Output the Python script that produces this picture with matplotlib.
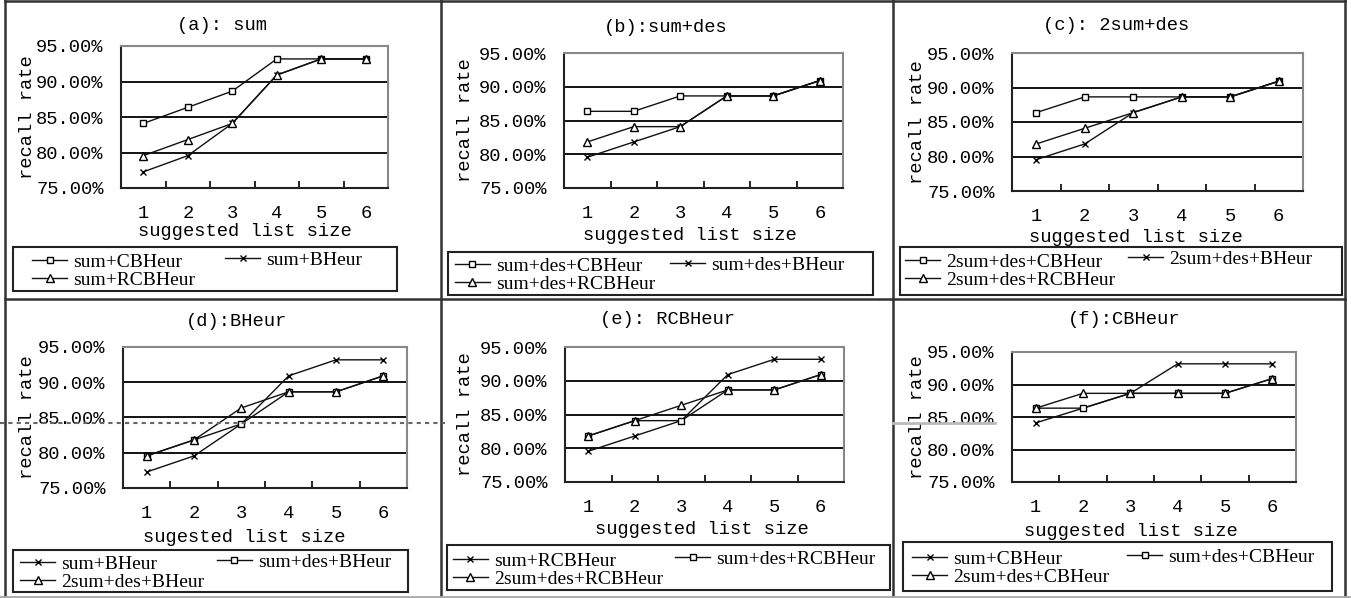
import numpy as np
import matplotlib
matplotlib.use("Agg")
import matplotlib.pyplot as plt
from matplotlib.lines import Line2D
from matplotlib.patches import Rectangle

# suggested list size and recall rate (%)
sizes = [1, 2, 3, 4, 5, 6]
sum_cb = [84.09, 86.36, 88.64, 93.18, 93.18, 93.18]
sum_b = [77.27, 79.55, 84.09, 90.91, 93.18, 93.18]
sum_rcb = [79.55, 81.82, 84.09, 90.91, 93.18, 93.18]
sumdes_cb = [86.36, 86.36, 88.64, 88.64, 88.64, 90.91]
sumdes_b = [79.55, 81.82, 84.09, 88.64, 88.64, 90.91]
sumdes_rcb = [81.82, 84.09, 84.09, 88.64, 88.64, 90.91]
sum2des_cb = [86.36, 88.64, 88.64, 88.64, 88.64, 90.91]
sum2des_b = [79.55, 81.82, 86.36, 88.64, 88.64, 90.91]
sum2des_rcb = [81.82, 84.09, 86.36, 88.64, 88.64, 90.91]

titles = ["(a): sum", "(b):sum+des", "(c): 2sum+des",
          "(d):BHeur", "(e): RCBHeur", "(f):CBHeur"]
xlabels = ["suggested list size", "suggested list size", "suggested list size",
           "sugested list size", "suggested list size", "suggested list size"]

W, H = 1351, 598
MONO = "Liberation Mono"
SERIF = "Liberation Serif"


def fx(x):
    return x / W


def fy(y):
    return 1 - y / H


mk = {"s": dict(marker="s", ms=5, mfc="white", mec="black", mew=1.0),
      "x": dict(marker="x", ms=5, mec="black", mew=1.0),
      "^": dict(marker="^", ms=6, mfc="white", mec="black", mew=1.0)}

# (series, marker, label) per panel, in legend order
series = [
    [(sum_cb, "s", "sum+CBHeur"), (sum_b, "x", "sum+BHeur"), (sum_rcb, "^", "sum+RCBHeur")],
    [(sumdes_cb, "s", "sum+des+CBHeur"), (sumdes_b, "x", "sum+des+BHeur"), (sumdes_rcb, "^", "sum+des+RCBHeur")],
    [(sum2des_cb, "s", "2sum+des+CBHeur"), (sum2des_b, "x", "2sum+des+BHeur"), (sum2des_rcb, "^", "2sum+des+RCBHeur")],
    [(sum_b, "x", "sum+BHeur"), (sumdes_b, "s", "sum+des+BHeur"), (sum2des_b, "^", "2sum+des+BHeur")],
    [(sum_rcb, "x", "sum+RCBHeur"), (sumdes_rcb, "s", "sum+des+RCBHeur"), (sum2des_rcb, "^", "2sum+des+RCBHeur")],
    [(sum_cb, "x", "sum+CBHeur"), (sumdes_cb, "s", "sum+des+CBHeur"), (sum2des_cb, "^", "2sum+des+CBHeur")],
]

# pixel layout: axes box, title, ylabel x, xlabel, legend box, legend columns/rows
layout = [
    dict(ax=(121, 46, 388, 188), t=(222, 26), yl=28, xl=(245, 232),
         box=(13, 247, 397, 291), c1=32, c2=225, r=(260, 282)),
    dict(ax=(564, 53, 843, 188), t=(666, 28), yl=465, xl=(690, 235),
         box=(448, 252, 873, 295), c1=455, c2=670, r=(265, 285)),
    dict(ax=(1012, 53, 1303, 191), t=(1116, 26), yl=917, xl=(1136, 237),
         box=(900, 247, 1342, 295), c1=905, c2=1128, r=(259, 283)),
    dict(ax=(123, 347, 407, 488), t=(237, 322), yl=28, xl=(244, 537),
         box=(13, 550, 408, 592), c1=20, c2=217, r=(562, 584)),
    dict(ax=(565, 347, 844, 482), t=(667, 320), yl=466, xl=(702, 530),
         box=(447, 545, 890, 590), c1=453, c2=675, r=(559, 581)),
    dict(ax=(1012, 352, 1296, 482), t=(1124, 320), yl=917, xl=(1131, 532),
         box=(903, 542, 1332, 591), c1=912, c2=1127, r=(557, 579)),
]

fig = plt.figure(figsize=(W / 100, H / 100), dpi=100)
fig.patch.set_facecolor("white")

for i in range(6):
    L = layout[i]
    x0, y0, x1, y1 = L["ax"]
    ax = fig.add_axes([fx(x0), fy(y1), (x1 - x0) / W, (y1 - y0) / H])
    handles = []
    for vals, m, lab in series[i]:
        h, = ax.plot(sizes, vals, color="#111111", lw=1.0, label=lab, **mk[m])
        handles.append(h)

    ax.set_xlim(0.5, 6.5)
    ax.set_ylim(75, 95)
    ax.set_yticks([75, 80, 85, 90, 95])
    ax.set_yticklabels(["%.2f%%" % v for v in [75, 80, 85, 90, 95]])
    ax.set_xticks(sizes)
    ax.set_xticks(np.arange(1.5, 6.0, 1.0), minor=True)
    ax.tick_params(axis="x", which="major", length=0, pad=12)
    ax.tick_params(axis="x", which="minor", direction="in", length=5, width=1.2)
    ax.tick_params(axis="y", length=0, pad=12.5)
    for lab in ax.get_xticklabels() + ax.get_yticklabels():
        lab.set_fontfamily(MONO)
        lab.set_fontsize(13.5)
        lab.set_color("black")
    ax.yaxis.grid(True, color="black", lw=1.3)
    ax.set_axisbelow(True)
    for s in ["left", "bottom"]:
        ax.spines[s].set_color("#222222")
        ax.spines[s].set_linewidth(1.5)
    for s in ["top", "right"]:
        ax.spines[s].set_color("#888888")
        ax.spines[s].set_linewidth(1.5)

    fig.text(fx(L["t"][0]), fy(L["t"][1]), titles[i], ha="center", va="center",
             family=MONO, fontsize=13.5, color="black")
    fig.text(fx(L["yl"]), fy((y0 + y1) / 2), "recall rate", rotation=90,
             ha="center", va="center", family=MONO, fontsize=13.5, color="black")
    fig.text(fx(L["xl"][0]), fy(L["xl"][1]), xlabels[i], ha="center", va="center",
             family=MONO, fontsize=13.5, color="black")

    # legend: two columns, item 1 and 3 in the first, item 2 in the second
    lkw = dict(frameon=False, borderpad=0, borderaxespad=0, handlelength=1.8,
               handletextpad=0.3, labelspacing=0.02,
               prop={"family": SERIF, "size": 14})
    r1, r2 = L["r"]
    fig.legend(handles=[handles[0], handles[2]], loc="center left",
               bbox_to_anchor=(fx(L["c1"]), fy((r1 + r2) / 2)), **lkw)
    fig.legend(handles=[handles[1]], loc="center left",
               bbox_to_anchor=(fx(L["c2"]), fy(r1)), **lkw)
    bx0, by0, bx1, by1 = L["box"]
    fig.add_artist(Rectangle((fx(bx0), fy(by1)), (bx1 - bx0) / W, (by1 - by0) / H,
                             transform=fig.transFigure, fill=False,
                             ec="#222222", lw=1.5))

# cell frame lines of the original table
frame = [((5, 1345), (299, 299)), ((441, 441), (0, 598)), ((893, 893), (0, 598)),
         ((5, 5), (0, 598)), ((1345, 1345), (0, 598)), ((5, 1345), (1, 1))]
for xs, ys in frame:
    fig.add_artist(Line2D([fx(v) for v in xs], [fy(v) for v in ys],
                          transform=fig.transFigure, color="#333333", lw=1.8))
fig.add_artist(Line2D([0, 1], [fy(597), fy(597)], transform=fig.transFigure,
                      color="#aaaaaa", lw=2))

# scan artefact across the lower row
fig.add_artist(Line2D([fx(0), fx(445)], [fy(423), fy(423)], transform=fig.transFigure,
                      color="#666666", lw=1.5, dashes=(2, 2)))
fig.add_artist(Line2D([fx(893), fx(995)], [fy(423), fy(423)], transform=fig.transFigure,
                      color="#bbbbbb", lw=2))

fig.savefig("out.png", dpi=100)
